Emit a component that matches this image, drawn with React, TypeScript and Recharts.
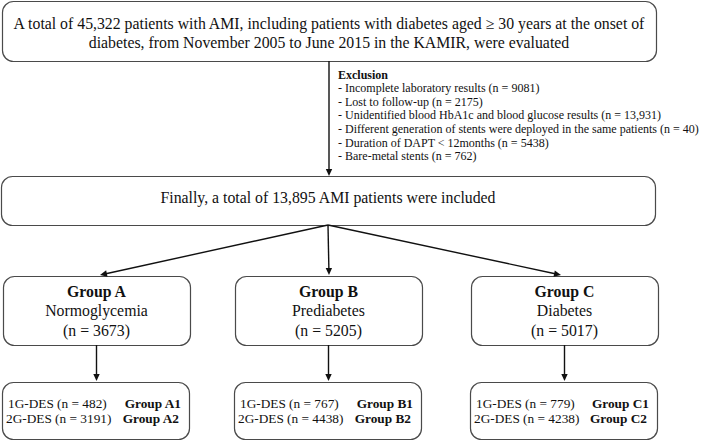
import React from "react";
import { ComposedChart, XAxis, YAxis, ReferenceArea, ReferenceLine, ReferenceDot } from "recharts";

const W = 709;
const H = 441;

const totalEvaluated = 45322;
const exclusionLabels = [
  "Incomplete laboratory results",
  "Lost to follow-up",
  "Unidentified blood HbA1c and blood glucose results",
  "Different generation of stents were deployed in the same patients",
  "Duration of DAPT < 12months",
  "Bare-metal stents",
];
const exclusionCounts = [9081, 2175, 13931, 40, 5438, 762];
const totalIncluded = 13895;
const groupNames = ["Group A", "Group B", "Group C"];
const groupLabels = ["Normoglycemia", "Prediabetes", "Diabetes"];
const groupCounts = [3673, 5205, 5017];
const firstGenCounts = [482, 767, 779];
const secondGenCounts = [3191, 4438, 4238];

// layout, in pixel units of the axes
const topBox = { x1: 2, x2: 656, y1: 1, y2: 61 };
const midBox = { x1: 1, x2: 655, y1: 176, y2: 225 };
const groupCols = [
  [3, 190],
  [235, 422],
  [471, 658],
];
const groupRow = [276, 345];
const subRow = [382, 439];
const spineX = 329;
const arrowTips = [100, 329, 561];

const FONT = "'Liberation Serif', 'Times New Roman', serif";
const INK = "#111";
const EDGE = "#4a4a4a";
const BIG = 15.8;

const fmt = (n: number) => (n >= 10000 ? n.toLocaleString("en-US") : String(n));

function roundRect(p: any, radius = 10) {
  const x = Math.round(p.x) + 0.5;
  const y = Math.round(p.y) + 0.5;
  const w = Math.round(p.width);
  const h = Math.round(p.height);
  return <rect x={x} y={y} width={w} height={h} rx={radius} ry={radius} fill="#fff" stroke={EDGE} strokeWidth={1.2} />;
}

function arrowShape(p: any) {
  const { x1, y1, x2, y2 } = p;
  const dx = x2 - x1;
  const dy = y2 - y1;
  const len = Math.sqrt(dx * dx + dy * dy) || 1;
  const ux = dx / len;
  const uy = dy / len;
  const head = 7;
  const half = 3.2;
  const bx = x2 - ux * head;
  const by = y2 - uy * head;
  const pts = `${x2},${y2} ${bx - uy * half},${by + ux * half} ${bx + uy * half},${by - ux * half}`;
  return (
    <g>
      <line x1={x1} y1={y1} x2={bx + ux} y2={by + uy} stroke={INK} strokeWidth={1.4} />
      <polygon points={pts} fill={INK} />
    </g>
  );
}

export default function App() {
  const topLines = [
    `A total of ${fmt(totalEvaluated)} patients with AMI, including patients with diabetes aged \u2265 30 years at the onset of`,
    "diabetes, from November 2005 to June 2015 in the KAMIR, were evaluated",
  ];

  return (
    <div style={{ position: "fixed", left: 0, top: 0, background: "#fff" }}>
      <ComposedChart width={W} height={H} margin={{ top: 0, right: 0, bottom: 0, left: 0 }} data={[]}>
        <XAxis type="number" dataKey="x" domain={[0, W]} allowDataOverflow hide />
        <YAxis type="number" dataKey="y" domain={[0, H]} allowDataOverflow reversed hide />

        <ReferenceArea
          x1={topBox.x1}
          x2={topBox.x2}
          y1={topBox.y1}
          y2={topBox.y2}
          ifOverflow="visible"
          shape={(p: any) => (
            <g>
              {roundRect(p, 11)}
              {topLines.map((t, i) => (
                <text key={i} x={p.x + p.width / 2} y={p.y + p.height / 2 + (i === 0 ? -8 : 11)} textAnchor="middle"
                  dominantBaseline="central" fontFamily={FONT} fontSize={BIG} fill={INK}>
                  {t}
                </text>
              ))}
            </g>
          )}
        />

        <ReferenceLine segment={[{ x: spineX, y: topBox.y2 }, { x: spineX, y: midBox.y1 }]} ifOverflow="visible" shape={arrowShape} />

        <ReferenceDot
          x={spineX + 9}
          y={74.5}
          r={0}
          ifOverflow="visible"
          shape={(p: any) => (
            <g fontFamily={FONT} fill={INK}>
              <text x={p.cx} y={p.cy} fontSize={12} fontWeight="bold" dominantBaseline="central">Exclusion</text>
              {exclusionLabels.map((l, i) => (
                <text key={l} x={p.cx} y={p.cy + 13.6 * (i + 1)} fontSize={12} dominantBaseline="central">
                  {`- ${l} (n = ${fmt(exclusionCounts[i])})`}
                </text>
              ))}
            </g>
          )}
        />

        <ReferenceArea
          x1={midBox.x1}
          x2={midBox.x2}
          y1={midBox.y1}
          y2={midBox.y2}
          ifOverflow="visible"
          shape={(p: any) => (
            <g>
              {roundRect(p, 11)}
              <text x={p.x + p.width / 2} y={p.y + p.height / 2 - 3} textAnchor="middle" dominantBaseline="central"
                fontFamily={FONT} fontSize={BIG} fill={INK}>
                {`Finally, a total of ${fmt(totalIncluded)} AMI patients were included`}
              </text>
            </g>
          )}
        />

        {groupCols.map((c, i) => (
          <ReferenceLine
            key={"fan" + i}
            segment={[{ x: (midBox.x1 + midBox.x2) / 2, y: midBox.y2 }, { x: arrowTips[i], y: groupRow[0] - 1 }]}
            ifOverflow="visible"
            shape={arrowShape}
          />
        ))}

        {groupCols.map((c, i) => (
          <ReferenceArea
            key={"grp" + i}
            x1={c[0]}
            x2={c[1]}
            y1={groupRow[0]}
            y2={groupRow[1]}
            ifOverflow="visible"
            shape={(p: any) => {
              const cx = p.x + p.width / 2;
              const cy = p.y + p.height / 2;
              return (
                <g fontFamily={FONT} fill={INK}>
                  {roundRect(p, 11)}
                  <text x={cx} y={cy - 19.5} textAnchor="middle" dominantBaseline="central" fontSize={BIG} fontWeight="bold">{groupNames[i]}</text>
                  <text x={cx} y={cy} textAnchor="middle" dominantBaseline="central" fontSize={BIG}>{groupLabels[i]}</text>
                  <text x={cx} y={cy + 19.5} textAnchor="middle" dominantBaseline="central" fontSize={BIG}>{`(n = ${fmt(groupCounts[i])})`}</text>
                </g>
              );
            }}
          />
        ))}

        {groupCols.map((c, i) => (
          <ReferenceLine
            key={"down" + i}
            segment={[{ x: (c[0] + c[1]) / 2, y: groupRow[1] }, { x: (c[0] + c[1]) / 2, y: subRow[0] - 1 }]}
            ifOverflow="visible"
            shape={arrowShape}
          />
        ))}

        {groupCols.map((c, i) => (
          <ReferenceArea
            key={"sub" + i}
            x1={c[0] - 1}
            x2={c[1] - 1}
            y1={subRow[0]}
            y2={subRow[1]}
            ifOverflow="visible"
            shape={(p: any) => {
              const cy = p.y + p.height / 2;
              const letter = groupNames[i].slice(-1);
              const rows = [
                [`1G-DES (n = ${fmt(firstGenCounts[i])})`, `Group ${letter}1`],
                [`2G-DES (n = ${fmt(secondGenCounts[i])})`, `Group ${letter}2`],
              ];
              return (
                <g fontFamily={FONT} fill={INK}>
                  {roundRect(p, 11)}
                  {rows.map((r, j) => (
                    <g key={j}>
                      <text x={p.x + (j === 0 ? 6 : 4)} y={cy - 7 + j * 15} dominantBaseline="central" fontSize={13.3}>{r[0]}</text>
                      <text x={p.x + p.width - (j === 0 ? 8 : 10)} y={cy - 7 + j * 15} textAnchor="end" dominantBaseline="central"
                        fontSize={13.3} fontWeight="bold">{r[1]}</text>
                    </g>
                  ))}
                </g>
              );
            }}
          />
        ))}
      </ComposedChart>
    </div>
  );
}
